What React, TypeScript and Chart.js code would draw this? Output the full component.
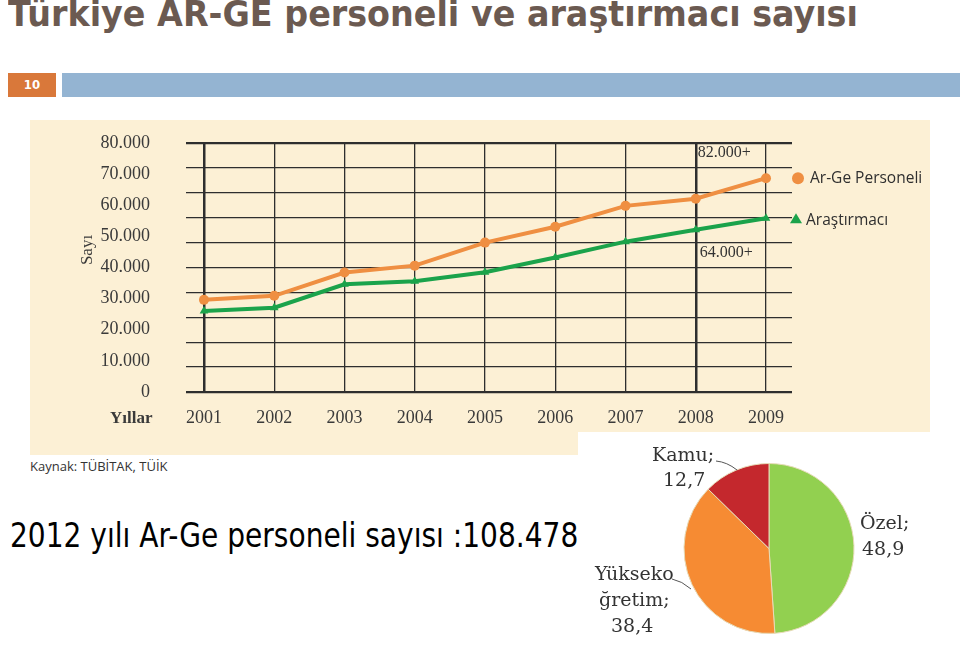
import React, { useEffect, useLayoutEffect, useRef, useState } from 'react';
import { Chart, registerables } from 'chart.js';

Chart.register(...registerables);

// ---- data ----
const years = [2001, 2002, 2003, 2004, 2005, 2006, 2007, 2008, 2009];
const argePersoneli = [29600, 30900, 38400, 40600, 48000, 53100, 59800, 62100, 68700];
const arastirmaci = [26000, 27100, 34600, 35600, 38500, 43200, 48300, 52100, 55800];
const yTickValues = [0, 10000, 20000, 30000, 40000, 50000, 60000, 70000, 80000];
const seriesNames = ['Ar-Ge Personeli', 'Araştırmacı'];
const seriesNotes = ['82.000+', '64.000+'];

const pieLabels = ['Özel', 'Yükseköğretim', 'Kamu'];
const pieValues = [48.9, 38.4, 12.7];

// ---- styles ----
const SERIF = '"Liberation Serif", "DejaVu Serif", serif';
const SANS = '"Open Sans", "Liberation Sans", sans-serif';
const ORANGE = '#ef8f42';
const GREEN = '#1ba34b';
const CREAM = '#fcf0d5';
const GRID = '#2e2e2e';
const TEXT = '#3a3a3a';

const fmtThousands = (v: number) => (v === 0 ? '0' : `${Math.round(v / 1000)}.000`);

function FitText({ text, width, style }: { text: string; width: number; style: React.CSSProperties }) {
  const ref = useRef<HTMLSpanElement>(null);
  const [sx, setSx] = useState(1);
  useLayoutEffect(() => {
    const el = ref.current;
    if (el && el.offsetWidth > 0) setSx(width / el.offsetWidth);
  }, [text, width]);
  return (
    <span
      ref={ref}
      style={{
        ...style,
        display: 'inline-block',
        whiteSpace: 'nowrap',
        transform: `scaleX(${sx})`,
        transformOrigin: 'left top',
      }}
    >
      {text}
    </span>
  );
}

const lineDecor = {
  id: 'lineDecor',
  afterDraw(chart: any) {
    const { ctx, chartArea, scales } = chart;
    ctx.save();
    // legend near line ends
    const m0 = chart.getDatasetMeta(0);
    const m1 = chart.getDatasetMeta(1);
    const p0 = m0.data[m0.data.length - 1];
    const p1 = m1.data[m1.data.length - 1];
    const lx = chartArea.right + 6;
    ctx.fillStyle = ORANGE;
    ctx.beginPath();
    ctx.arc(lx, p0.y, 6, 0, Math.PI * 2);
    ctx.fill();
    ctx.fillStyle = GREEN;
    ctx.beginPath();
    const ty = p1.y + 1;
    ctx.moveTo(lx - 2, ty - 6);
    ctx.lineTo(lx + 4, ty + 4);
    ctx.lineTo(lx - 8, ty + 4);
    ctx.closePath();
    ctx.fill();
    ctx.fillStyle = '#2f2f2f';
    ctx.font = `15.5px ${SANS}`;
    ctx.textBaseline = 'middle';
    ctx.textAlign = 'left';
    ctx.fillText(seriesNames[0], lx + 12, p0.y);
    ctx.fillText(seriesNames[1], lx + 8, p1.y + 2);

    // notes
    const nx = scales.x.getPixelForValue(2008) + 2;
    ctx.font = `16px ${SERIF}`;
    ctx.fillStyle = '#333';
    ctx.fillText(seriesNotes[0], nx, chartArea.top + 10);
    ctx.fillText(seriesNotes[1], nx + 2, chartArea.top + 110);

    // axis captions
    ctx.font = `bold 17px ${SERIF}`;
    ctx.fillStyle = TEXT;
    ctx.fillText('Yıllar', 80, chartArea.bottom + 27);
    ctx.save();
    ctx.translate(58, 130);
    ctx.rotate(-Math.PI / 2);
    ctx.textAlign = 'center';
    ctx.font = `17px ${SERIF}`;
    ctx.fillText('Sayı', 0, 0);
    ctx.restore();
    ctx.restore();
  },
};

function LineChart() {
  const ref = useRef<HTMLCanvasElement>(null);
  useEffect(() => {
    const chart = new Chart(ref.current!, {
      type: 'line',
      data: {
        datasets: [
          {
            label: seriesNames[0],
            data: years.map((x, i) => ({ x, y: argePersoneli[i] })),
            borderColor: ORANGE,
            backgroundColor: ORANGE,
            borderWidth: 4,
            pointStyle: 'circle',
            pointRadius: 5,
            pointBorderWidth: 0,
            tension: 0,
            yAxisID: 'y',
          },
          {
            label: seriesNames[1],
            data: years.map((x, i) => ({ x, y: arastirmaci[i] })),
            borderColor: GREEN,
            backgroundColor: GREEN,
            borderWidth: 4,
            pointStyle: 'triangle',
            pointRadius: 5,
            pointBorderWidth: 0,
            tension: 0,
            yAxisID: 'y',
          },
        ],
      },
      options: {
        animation: false,
        responsive: false,
        maintainAspectRatio: false,
        layout: { padding: { left: 0, right: 138, top: 23, bottom: 0 }, autoPadding: false },
        plugins: { legend: { display: false }, tooltip: { enabled: false } },
        scales: {
          x: {
            type: 'linear',
            min: 2000.744,
            max: 2009.37,
            afterBuildTicks: (s: any) => {
              s.ticks = years.map((v) => ({ value: v }));
            },
            afterFit: (s: any) => {
              s.height = 63;
              s.paddingLeft = 0;
              s.paddingRight = 0;
            },
            ticks: {
              callback: (v: any) => String(v),
              font: { family: SERIF, size: 18 },
              color: TEXT,
              padding: 15,
              maxRotation: 0,
              autoSkip: false,
            },
            grid: {
              color: GRID,
              lineWidth: (c: any) => (c.tick && (c.tick.value === 2001 || c.tick.value === 2008) ? 2.5 : 1.3),
              drawTicks: false,
            },
            border: { display: false },
          },
          y: {
            type: 'linear',
            position: 'left',
            min: 0,
            max: 80000,
            afterBuildTicks: (s: any) => {
              s.ticks = yTickValues.map((v) => ({ value: v }));
            },
            afterFit: (s: any) => {
              s.width = 156;
              s.paddingTop = 0;
              s.paddingBottom = 0;
            },
            ticks: {
              callback: (v: any) => fmtThousands(Number(v)),
              font: { family: SERIF, size: 18 },
              color: TEXT,
              padding: 28,
            },
            grid: { display: false },
            border: { display: false },
          },
          g: {
            type: 'linear',
            position: 'right',
            min: 0,
            max: 10,
            ticks: { display: false, stepSize: 1 },
            afterFit: (s: any) => {
              s.width = 0;
              s.paddingTop = 0;
              s.paddingBottom = 0;
            },
            grid: {
              color: GRID,
              lineWidth: (c: any) => (c.tick && (c.tick.value === 0 || c.tick.value === 10) ? 2.2 : 1.3),
              drawTicks: false,
            },
            border: { display: false },
          },
        },
      },
      plugins: [lineDecor],
    } as any);
    return () => chart.destroy();
  }, []);
  return (
    <canvas
      ref={ref}
      width={900}
      height={335}
      style={{ position: 'absolute', left: 30, top: 120, width: 900, height: 335, background: CREAM }}
    />
  );
}

function PieChart() {
  const ref = useRef<HTMLCanvasElement>(null);
  useEffect(() => {
    const chart = new Chart(ref.current!, {
      type: 'pie',
      data: {
        labels: pieLabels,
        datasets: [
          {
            data: pieValues,
            backgroundColor: ['#92d050', '#f68b33', '#c4282d'],
            borderColor: '#e6dbb8',
            borderWidth: 1,
          },
        ],
      },
      options: {
        animation: false,
        responsive: false,
        maintainAspectRatio: false,
        layout: { padding: { left: 98, right: 98, top: 31, bottom: 17 } },
        plugins: { legend: { display: false }, tooltip: { enabled: false } },
      },
    } as any);
    return () => chart.destroy();
  }, []);
  return (
    <canvas
      ref={ref}
      width={382}
      height={219}
      style={{ position: 'absolute', left: 578, top: 432, width: 382, height: 219, background: '#ffffff' }}
    />
  );
}

const pieText: React.CSSProperties = {
  position: 'absolute',
  fontFamily: '"DejaVu Serif", serif',
  fontSize: 19,
  color: '#333333',
  lineHeight: '25px',
  whiteSpace: 'nowrap',
};

export default function App() {
  return (
    <div
      style={{
        position: 'fixed',
        left: 0,
        top: 0,
        width: 960,
        height: 651,
        background: '#ffffff',
        overflow: 'hidden',
      }}
    >
      <div style={{ position: 'absolute', left: 8, top: -11 }}>
        <FitText
          text="Türkiye AR-GE personeli ve araştırmacı sayısı"
          width={850}
          style={{
            fontFamily: '"DejaVu Sans Condensed", "Liberation Sans Narrow", "DejaVu Sans", sans-serif',
            fontWeight: 'bold',
            fontSize: 36,
            color: '#6b5a51',
            lineHeight: '50px',
          }}
        />
      </div>
      <div
        style={{
          position: 'absolute',
          left: 8,
          top: 73,
          width: 48,
          height: 24,
          background: '#d9783a',
          color: '#ffffff',
          fontFamily: '"DejaVu Sans Condensed", "DejaVu Sans", sans-serif',
          fontWeight: 'bold',
          fontSize: 13,
          lineHeight: '24px',
          textAlign: 'center',
        }}
      >
        10
      </div>
      <div style={{ position: 'absolute', left: 62, top: 73, width: 898, height: 24, background: '#94b4d2' }} />

      <LineChart />

      <div
        style={{
          position: 'absolute',
          left: 30,
          top: 457,
          fontFamily: SANS,
          fontSize: 13,
          color: '#333',
          lineHeight: '18px',
        }}
      >
        Kaynak: TÜBİTAK, TÜİK
      </div>

      <div style={{ position: 'absolute', left: 10, top: 516 }}>
        <FitText
          text="2012 yılı Ar-Ge personeli sayısı :108.478"
          width={568}
          style={{
            fontFamily: '"DejaVu Sans", sans-serif',
            fontSize: 33,
            color: '#000',
            lineHeight: '40px',
          }}
        />
      </div>

      <PieChart />

      <div style={{ ...pieText, left: 652, top: 442 }}>Kamu;</div>
      <div style={{ ...pieText, left: 663, top: 467 }}>12,7</div>
      <div style={{ ...pieText, left: 860, top: 510 }}>Özel;</div>
      <div style={{ ...pieText, left: 862, top: 536 }}>48,9</div>
      <div style={{ ...pieText, left: 595, top: 561 }}>Yükseko</div>
      <div style={{ ...pieText, left: 599, top: 587 }}>ğretim;</div>
      <div style={{ ...pieText, left: 611, top: 613 }}>38,4</div>
      <svg
        width={960}
        height={651}
        style={{ position: 'absolute', left: 0, top: 0, pointerEvents: 'none' }}
      >
        <path d="M 716 461 Q 727 462 737 470" stroke="#555" strokeWidth={1} fill="none" />
        <path d="M 672 579 Q 682 581 691 589" stroke="#555" strokeWidth={1} fill="none" />
      </svg>
    </div>
  );
}
